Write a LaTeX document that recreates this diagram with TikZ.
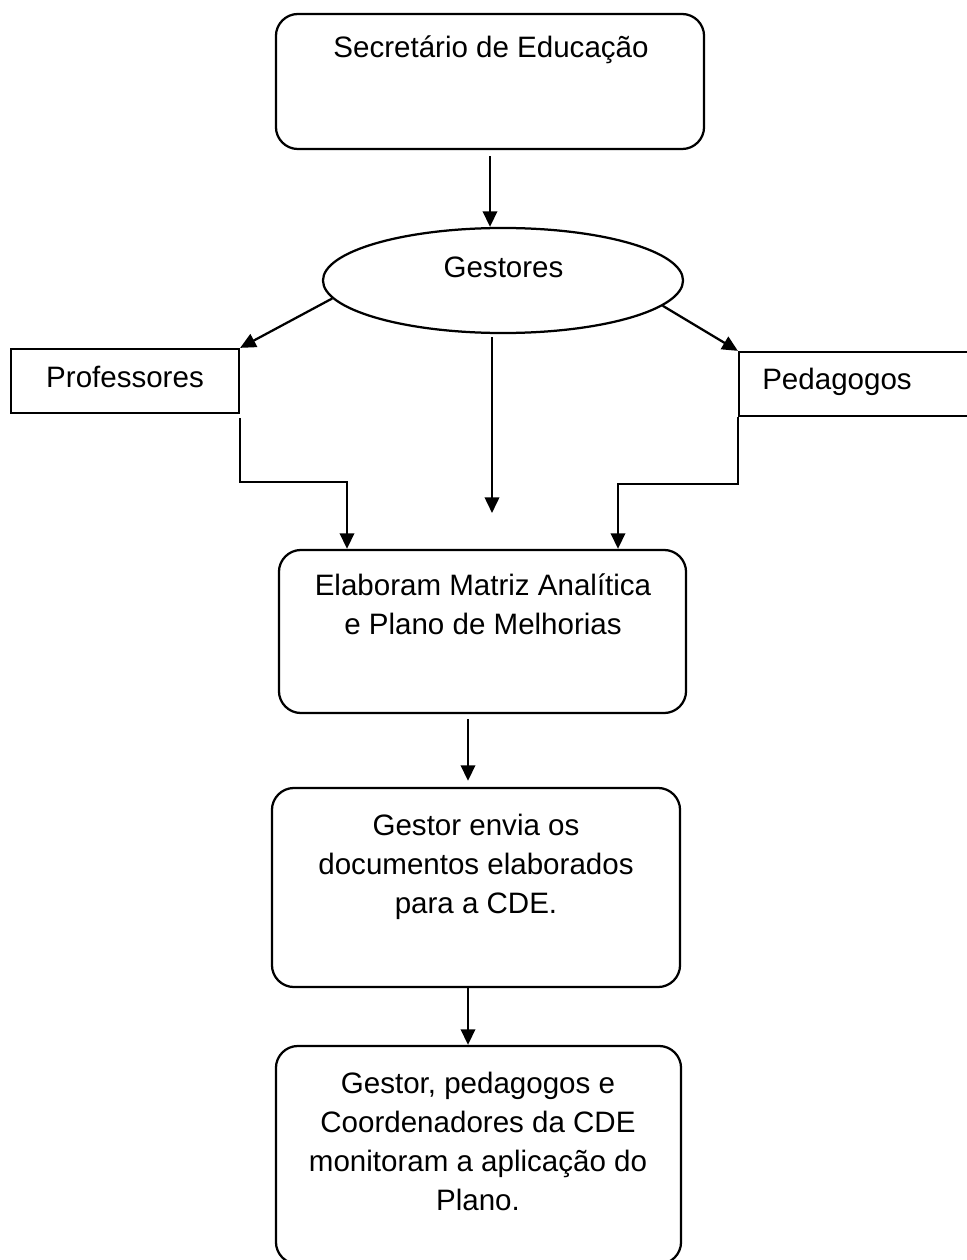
\documentclass[tikz,border=0pt]{standalone}
\usepackage{fontspec}
\setmainfont{Liberation Sans}
\usetikzlibrary{arrows.meta,shapes.geometric}

\begin{document}
\begin{tikzpicture}[x=0.025cm,y=-0.025cm,>={Triangle[length=0.39cm,width=0.36cm]},
  line width=1.6pt,font=\fontsize{21}{27.7}\selectfont,
  rbox/.style={draw,rounded corners=0.55cm,inner sep=0pt},
  sqbox/.style={draw,inner sep=0pt},
  lbl/.style={anchor=base,align=center,inner sep=0pt}]
  \useasboundingbox (0,0) rectangle (966,1260);
  % shapes
  \node[rbox,minimum width=10.7cm,minimum height=3.375cm] (sec) at (490,81.5) {};
  \node[draw,ellipse,inner sep=0pt,minimum width=9cm,minimum height=2.625cm] (gest) at (503,280.5) {};
  \node[sqbox,minimum width=5.7cm,minimum height=1.6cm] (prof) at (125,381) {};
  \node[sqbox,minimum width=6.15cm,minimum height=1.6cm] (ped) at (862,384) {};
  \node[rbox,minimum width=10.175cm,minimum height=4.075cm] (elab) at (482.5,631.5) {};
  \node[rbox,minimum width=10.2cm,minimum height=4.975cm] (env) at (476,887.5) {};
  \node[rbox,minimum width=10.125cm,minimum height=5.45cm] (mon) at (478.5,1155) {};
  % texts (base = last line)
  \node[lbl] (sec-t) at (491,58) {Secretário de Educação};
  \node[lbl] (gest-t) at (503.5,278) {Gestores};
  \node[lbl] (prof-t) at (125,387) {Professores};
  \node[lbl] (ped-t) at (837,389) {Pedagogos};
  \node[lbl] (elab-t) at (483,634) {Elaboram Matriz Analítica\\e Plano de Melhorias};
  \node[lbl] (env-t) at (476,913) {Gestor envia os\\documentos elaborados\\para a CDE.};
  \node[lbl] (mon-t) at (478,1210) {Gestor, pedagogos e\\Coordenadores da CDE\\monitoram a aplicação do\\Plano.};
  % connectors
  \coordinate (gend) at (492,513);
  \coordinate (profbend) at (347,482);
  \coordinate (pedbend) at (618,484);
  \coordinate (lowline) at (468,0);
  \draw[->,shorten <=0.15cm] (sec.south) -- (sec.south |- gest.north);
  \draw[->] (gest.186) -- (prof.north east);
  \draw[->] (gest.351) -- (ped.north west);
  \draw[->,shorten <=0.08cm] (gest.south -| gend) -- (gend);
  \draw[->,shorten <=0.1cm] (prof.south east) |- (profbend) -- (profbend |- elab.north);
  \draw[->] (ped.south west) |- (pedbend) -- (pedbend |- elab.north);
  \draw[->,shorten <=0.125cm,shorten >=0.15cm] (elab.south -| lowline) -- (env.north -| lowline);
  \draw[->] (env.south -| lowline) -- (mon.north -| lowline);
\end{tikzpicture}
\end{document}
